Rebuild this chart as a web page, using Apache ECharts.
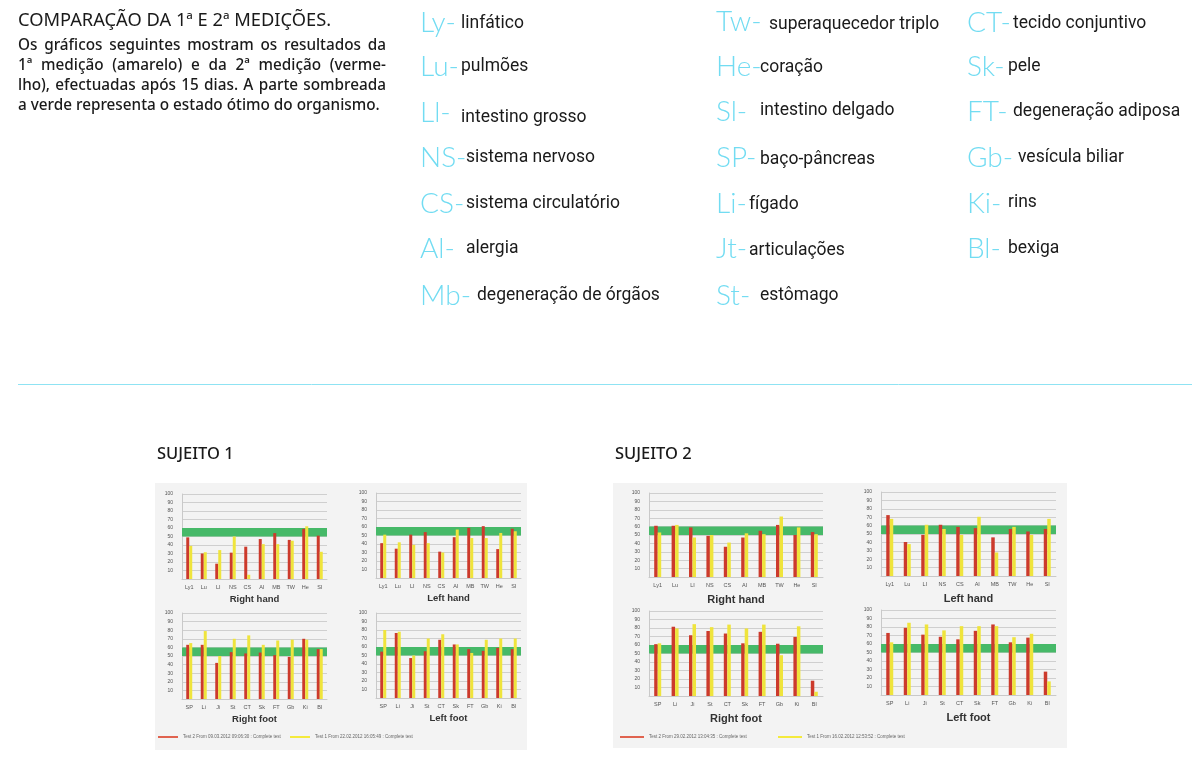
<!DOCTYPE html>
<html>
<head>
<meta charset="utf-8">
<script src="https://cdn.jsdelivr.net/npm/echarts@6/dist/echarts.min.js"></script>
<style>
html,body{margin:0;padding:0;background:#fff;}
#c{width:1200px;height:778px;}
</style>
</head>
<body>
<div id="c"></div>
<script>
// ---------- DATA ----------
const handCats = ['Ly1','Lu','LI','NS','CS','AI','MB','TW','He','SI'];
const footCats = ['SP','Li','Ji','St','CT','Sk','FT','Gb','Ki','Bl'];
const yTicks = [10,20,30,40,50,60,70,80,90,100];
const optimalLow = 50;
const optimalHigh = 60;

// Sujeito 1 (red = test 2, yellow = test 1)
const s1RightHandRed    = [49,30,18,31,38,47,54,46,59,51];
const s1RightHandYellow = [39,31.5,34,50,5,41,41,45,62,32];
const s1LeftHandRed     = [41,34.5,51,54,31,48,59,61,34,58];
const s1LeftHandYellow  = [51,42,39,41,30,57,47,47,53,55];
const s1RightFootRed    = [63,63,42,54.5,53,54,51,49,70,58];
const s1RightFootYellow = [65,79,50,70,74,63,68,69,69,58];
const s1LeftFootRed     = [54.5,76.5,47,55,68.5,63,57.5,55.5,59,57.5];
const s1LeftFootYellow  = [80,78,50,70,75,63,53,68.5,70,70];

// Sujeito 2
const s2RightHandRed    = [61,61,59,49,36,47,55,62,50,53.5];
const s2RightHandYellow = [53,62,47,50,41,52,51,72,59,51];
const s2LeftHandRed     = [72.5,40.5,49,61,58.5,57,46,56,53,56];
const s2LeftHandYellow  = [68,38,61,56,49,70.5,28,58.5,49,68];
const s2RightFootRed    = [61,81.5,71.5,76.5,73.5,62,75.5,61.5,69.5,18];
const s2RightFootYellow = [62,79.5,84.5,81,84,79.5,84,48,82,5];
const s2LeftFootRed     = [73,79,71,68.5,65.5,75.5,83,62,67.5,27.5];
const s2LeftFootYellow  = [62,85,83,76,81,81,81,68,72,16];

const legend1 = ['Test 2 From 09.03.2012 09:06:30 : Complete test','Test 1 From 22.02.2012 16:05:49 : Complete test'];
const legend2 = ['Test 2 From 29.02.2012 13:04:35 : Complete test','Test 1 From 16.02.2012 12:53:52 : Complete test'];

const glossary = [
  // [abbr, description, abbrX, abbrY, descX, descY]
  ['Ly-','linfático',420,23,461,24],
  ['Lu-','pulmões',420,67,461,67],
  ['Ll-','intestino grosso',420,113,461,118],
  ['NS-','sistema nervoso',420,158,466,158],
  ['CS-','sistema circulatório',420,204,466,204],
  ['Al-','alergia',420,249,466,249],
  ['Mb-','degeneração de órgãos',420,296,477,296],
  ['Tw-','superaquecedor triplo',716,22,769,25],
  ['He-','coração',716,67,760,68],
  ['Sl-','intestino delgado',716,112,760,111],
  ['SP-','baço-pâncreas',716,158,760,160],
  ['Li-','fígado',716,204,749,205],
  ['Jt-','articulações',716,249,749,251],
  ['St-','estômago',716,296,760,296],
  ['CT-','tecido conjuntivo',967,23,1013,24],
  ['Sk-','pele',967,67,1008,67],
  ['FT-','degeneração adiposa',967,112,1013,112],
  ['Gb-','vesícula biliar',967,158,1018,158],
  ['Ki-','rins',967,204,1008,203],
  ['Bl-','bexiga',967,249,1008,249]
];

const introTitle = 'COMPARAÇÃO DA 1ª E 2ª MEDIÇÕES.';
const introLines = [
  'Os gráficos seguintes mostram os resultados da',
  '1ª medição (amarelo) e da 2ª medição (verme-',
  'lho), efectuadas após 15 dias. A parte sombreada',
  'a verde representa o estado ótimo do organismo.'
];

// ---------- LAYOUT ----------
const RED = '#cc3a2c', YELLOW = '#efe43c', GREEN = '#46b968';
const panels = [
  {cats:handCats, red:s1RightHandRed, yel:s1RightHandYellow, name:'Right hand', left:182, top:494, width:145, height:85, bw:3, fs:9.5},
  {cats:handCats, red:s1LeftHandRed,  yel:s1LeftHandYellow,  name:'Left hand',  left:376, top:493, width:145, height:85, bw:3, fs:9.5},
  {cats:footCats, red:s1RightFootRed, yel:s1RightFootYellow, name:'Right foot', left:182, top:613, width:145, height:86, bw:3, fs:9.5},
  {cats:footCats, red:s1LeftFootRed,  yel:s1LeftFootYellow,  name:'Left foot',  left:376, top:613, width:145, height:85, bw:3, fs:9.5},
  {cats:handCats, red:s2RightHandRed, yel:s2RightHandYellow, name:'Right hand', left:649, top:493, width:174, height:84, bw:3.5, fs:11},
  {cats:handCats, red:s2LeftHandRed,  yel:s2LeftHandYellow,  name:'Left hand',  left:881, top:492, width:175, height:84, bw:3.5, fs:11},
  {cats:footCats, red:s2RightFootRed, yel:s2RightFootYellow, name:'Right foot', left:649, top:611, width:174, height:85, bw:3.5, fs:11},
  {cats:footCats, red:s2LeftFootRed,  yel:s2LeftFootYellow,  name:'Left foot',  left:881, top:610, width:175, height:85, bw:3.5, fs:11}
];

const grid = [], xAxis = [], yAxis = [], series = [];
panels.forEach((p, i) => {
  grid.push({left:p.left, top:p.top, width:p.width, height:p.height, containLabel:false});
  xAxis.push({
    type:'category', gridIndex:i, data:p.cats,
    axisLine:{lineStyle:{color:'#c9c9c9'}}, axisTick:{show:false},
    axisLabel:{fontSize:5.5, color:'#555', margin:5, fontFamily:'Liberation Sans'},
    name:p.name, nameLocation:'middle', nameGap:p.fs+6,
    nameTextStyle:{fontSize:p.fs, fontWeight:'bold', color:'#333', fontFamily:'Liberation Sans'}
  });
  yAxis.push({
    type:'value', gridIndex:i, min:0, max:100, interval:10,
    axisLine:{show:true, lineStyle:{color:'#c9c9c9'}}, axisTick:{show:false},
    splitLine:{lineStyle:{color:'#cfcfcf', width:1}},
    axisLabel:{fontSize:5, color:'#555', margin:9, fontFamily:'Liberation Sans',
      formatter: v => (yTicks.indexOf(v) >= 0 ? String(v) : '')}
  });
  series.push({
    type:'line', xAxisIndex:i, yAxisIndex:i, data:[], silent:true, z:1,
    markArea:{silent:true, itemStyle:{color:GREEN, opacity:1},
      data:[[{yAxis:optimalLow},{yAxis:optimalHigh}]]}
  });
  series.push({type:'bar', xAxisIndex:i, yAxisIndex:i, data:p.red, barWidth:p.bw, barGap:'0%',
    itemStyle:{color:RED}, z:3, silent:true});
  series.push({type:'bar', xAxisIndex:i, yAxisIndex:i, data:p.yel, barWidth:p.bw, barGap:'0%',
    itemStyle:{color:YELLOW}, z:3, silent:true});
});

// ---------- GRAPHIC (texts, panels) ----------
const g = [];
g.push({type:'rect', z:-10, shape:{x:155, y:483, width:372, height:267}, style:{fill:'#f3f3f3'}});
g.push({type:'rect', z:-10, shape:{x:613, y:483, width:454, height:265}, style:{fill:'#f3f3f3'}});

g.push({type:'text', x:18, y:21, style:{text:introTitle, font:'18.3px "Noto Sans"', fill:'#1a1a1a', verticalAlign:'middle'}});

// justified paragraph (word placement measured with a canvas context)
const measureCtx = document.createElement('canvas').getContext('2d');
const paraFont = '500 15.3px "Noto Sans"';
measureCtx.font = paraFont;
const paraWidth = 368;
introLines.forEach((t, k) => {
  const y = 46 + k * 20;
  if (k === introLines.length - 1) {
    g.push({type:'text', x:18, y, style:{text:t, font:paraFont, fill:'#1a1a1a', verticalAlign:'middle'}});
    return;
  }
  const words = t.split(' ');
  const wsum = words.reduce((s, w) => s + measureCtx.measureText(w).width, 0);
  const gap = (paraWidth - wsum) / (words.length - 1);
  let x = 18;
  words.forEach(w => {
    g.push({type:'text', x, y, style:{text:w, font:paraFont, fill:'#1a1a1a', verticalAlign:'middle'}});
    x += measureCtx.measureText(w).width + gap;
  });
});

glossary.forEach(r => {
  g.push({type:'text', x:r[2], y:r[3], style:{text:r[0], font:'300 28px Lato', fill:'#72dcf2', verticalAlign:'middle'}});
  g.push({type:'text', x:r[4], y:r[5], style:{text:r[1], font:'17.5px Roboto', fill:'#1a1a1a', verticalAlign:'middle'}});
});

g.push({type:'line', shape:{x1:18, y1:384.5, x2:1192, y2:384.5}, style:{stroke:'#8fe3f3', lineWidth:1}});

g.push({type:'text', x:157, y:454, style:{text:'SUJEITO 1', font:'500 16.5px "Noto Sans"', fill:'#1a1a1a', verticalAlign:'middle'}});
g.push({type:'text', x:615, y:454, style:{text:'SUJEITO 2', font:'500 16.5px "Noto Sans"', fill:'#1a1a1a', verticalAlign:'middle'}});

function legendRow(x0, x1, labels, len) {
  g.push({type:'rect', shape:{x:x0, y:736, width:len, height:2}, style:{fill:'#e0634f'}});
  g.push({type:'text', x:x0+len+5, y:737, style:{text:labels[0], font:'4.5px "Liberation Sans"', fill:'#666', verticalAlign:'middle'}});
  g.push({type:'rect', shape:{x:x1, y:736, width:len, height:2}, style:{fill:'#f4ea3c'}});
  g.push({type:'text', x:x1+len+5, y:737, style:{text:labels[1], font:'4.5px "Liberation Sans"', fill:'#666', verticalAlign:'middle'}});
}
legendRow(158, 290, legend1, 20);
legendRow(620, 778, legend2, 24);

const chart = echarts.init(document.getElementById('c'), null, {renderer:'canvas'});
chart.setOption({
  animation:false,
  backgroundColor:'#ffffff',
  grid, xAxis, yAxis, series,
  graphic:{elements:g}
});
</script>
</body>
</html>
